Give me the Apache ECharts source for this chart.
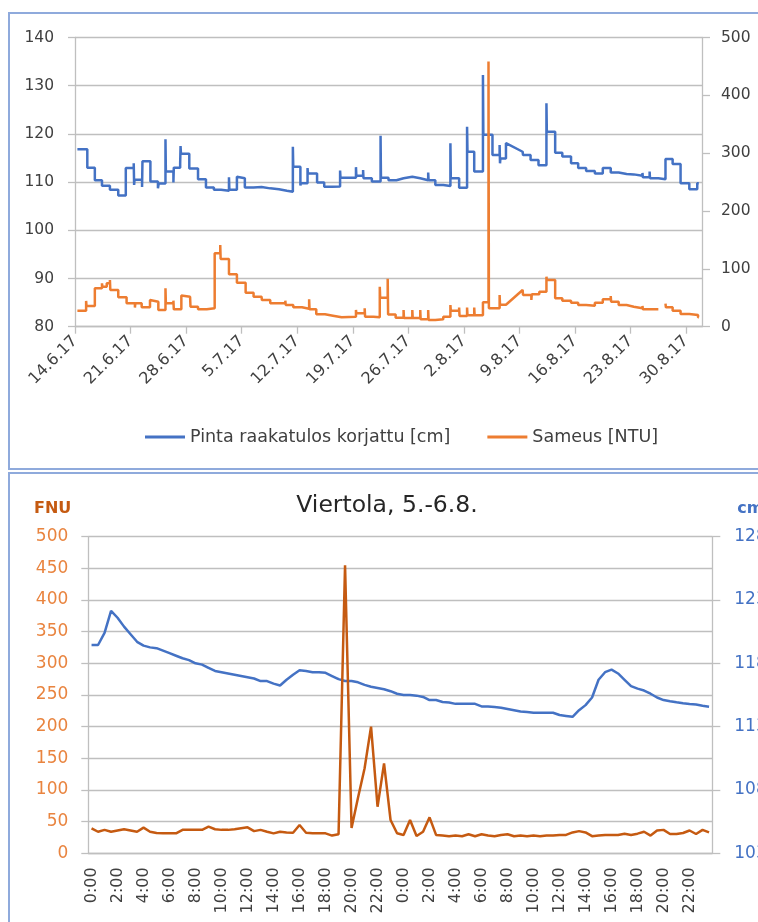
<!DOCTYPE html>
<html>
<head>
<meta charset="utf-8">
<script src="https://cdn.jsdelivr.net/npm/echarts@6/dist/echarts.min.js"></script>
<style>
  html, body { margin: 0; padding: 0; background: #fff; width: 758px; height: 922px; overflow: hidden; }
  .frame { position: absolute; border: 2px solid #8FAADC; box-sizing: border-box; }
  .chart { position: absolute; left: 0; }
</style>
</head>
<body>
<div class="frame" style="left:8px;top:12px;width:800px;height:458px"></div>
<div class="frame" style="left:8px;top:472px;width:800px;height:500px"></div>
<div id="top" class="chart" style="top:0;width:800px;height:470px"></div>
<div id="bottom" class="chart" style="top:470px;width:774px;height:452px"></div>
<script>
// ---- top chart: days counted from 14.6.17 ----
var weekLabels = ['14.6.17', '21.6.17', '28.6.17', '5.7.17', '12.7.17', '19.7.17',
  '26.7.17', '2.8.17', '9.8.17', '16.8.17', '23.8.17', '30.8.17'];

// Pinta raakatulos korjattu [cm] - level changes (day, cm)
var pintaDay = [0.3, 1.55, 2.5, 3.4, 4.4, 5.45, 6.4, 7.4, 7.45, 7.5, 8.45, 8.5, 9.5, 10.45, 10.55,
  11.4, 11.45, 12.4, 12.45, 13.25, 13.3, 13.35, 14.4, 15.5, 16.5, 17.5, 18.4, 19.4, 19.45, 20.4,
  20.45, 21.4, 22.5, 23.5, 24.6, 25.7, 26.7, 27.45, 27.5, 28.4, 28.45, 29.3, 29.35, 30.5, 31.4,
  32.4, 33.4, 33.45, 35.4, 35.45, 36.3, 36.35, 37.4, 38.5, 38.55, 39.5, 40.5, 41.4, 42.5, 43.5,
  44.5, 44.55, 45.4, 46.4, 47.3, 47.35, 48.4, 49.4, 49.45, 50.3, 51.4, 51.45, 52.6, 53.5, 53.55,
  53.6, 54.3, 56.4, 56.45, 57.4, 58.4, 59.4, 59.45, 60.5, 61.4, 62.5, 63.4, 64.4, 65.5, 66.5,
  67.5, 68.5, 69.5, 70.4, 71.5, 71.55, 72.4, 72.45, 73.5, 74.4, 75.3, 76.3, 77.4, 78.4, 78.6];
var pintaVal = [116.8, 113.0, 110.4, 109.25, 108.4, 107.2, 112.9, 113.9, 109.4, 110.5, 109.0, 114.3, 110.1, 108.7, 109.7,
  118.9, 112.2, 109.9, 113.0, 113.8, 117.5, 115.9, 112.8, 110.6, 108.9, 108.4, 108.2, 111.0, 108.4, 111.1,
  110.8, 108.9, 109.0, 108.7, 108.5, 108.2, 108.0, 117.35, 113.2, 109.3, 109.75, 112.9, 111.8, 109.9, 109.05,
  109.1, 112.4, 110.9, 113.1, 111.3, 112.5, 110.8, 110.1, 119.6, 110.9, 110.4, 110.8, 111.1, 110.8, 110.4,
  112.0, 110.4, 109.4, 109.2, 118.05, 110.8, 108.85, 121.5, 116.3, 112.2, 132.2, 119.8, 115.6, 117.7, 113.9,
  114.9, 118.1, 116.3, 115.6, 114.6, 113.5, 126.35, 120.45, 116.1, 115.3, 113.9, 112.9, 112.3, 111.8, 112.9,
  112.0, 111.7, 111.6, 111.3, 111.9, 111.0, 112.2, 110.8, 110.6, 114.8, 113.75, 109.75, 108.5, 109.75, 109.75];
var pintaRampAt = [56.4];

// Sameus [NTU] - level changes (day, NTU); null = missing data
var sameusDay = [0.3, 1.4, 1.45, 2.5, 3.4, 3.45, 4.0, 4.4, 4.45, 5.45, 6.5, 7.55, 7.6, 8.4, 9.45, 9.5,
  10.5, 11.4, 11.45, 12.4, 12.45, 13.4, 13.45, 14.5, 14.55, 15.5, 16.6, 17.6, 18.3, 18.35, 19.4, 20.4,
  21.5, 22.5, 23.5, 23.55, 24.6, 26.5, 26.55, 27.5, 28.6, 29.5, 29.55, 30.4, 31.5, 32.5, 33.6, 35.4,
  35.45, 36.5, 36.55, 37.6, 38.4, 38.45, 39.4, 39.45, 40.4, 41.4, 41.45, 42.5, 42.55, 43.5, 43.55, 44.5,
  44.55, 45.4, 46.4, 47.3, 47.35, 48.4, 48.45, 49.4, 49.45, 50.3, 50.35, 51.4, 52.1, 52.15, 53.5, 53.55,
  54.3, 56.4, 56.45, 57.5, 57.55, 58.5, 59.4, 59.45, 60.5, 61.4, 62.5, 63.4, 64.4, 65.5, 66.5, 67.5,
  67.55, 68.5, 69.5, 70.4, 71.5, 71.55, 73.5, 74.4, 74.45, 75.3, 76.3, 77.4, 78.5, 78.6];
var sameusVal = [27.7, 44.5, 35.8, 66.4, 75, 69.2, 75, 80.8, 63.5, 50.8, 40.5, 33, 40.5, 33.5, 46.2, 43.3,
  28.9, 66.4, 40.5, 45, 30, 54, 51.9, 55, 34.6, 30, 31.8, 127, 141.3, 117.1, 90.6, 76.2,
  58.8, 51.9, 55, 46.2, 40.5, 45, 37.5, 33.5, 31.2, 47.3, 30, 21.4, 19.1, 16.2, 17.3, 28.9,
  23.1, 31.8, 17.3, 16.2, 69.2, 50, 83, 21, 15.6, 28.9, 15, 28.9, 15, 28.9, 12.7, 28.9,
  11.5, 12.7, 17.3, 37.5, 27.7, 33, 18.5, 33, 20, 33, 20, 42.2, 458.5, 31.8, 54.8, 38,
  38, 63.5, 54.8, 46.2, 56, 60.6, 86.5, 80.8, 49.1, 45, 41.5, 37.5, 36.3, 41.5, 47.3, 53,
  43.3, 37.5, 34.6, 31.8, 35.8, 30.1, null, 40, 33.5, 27.7, 22, 20.2, 16.2, 16.2];
var sameusRampAt = [56.4];

// ---- bottom chart: Viertola 5.-6.8., half-hour readings ----
var halfHours = [];
for (var dd = 0; dd < 2; dd++) {
  for (var h = 0; h < 24; h++) { halfHours.push(h + ':00'); halfHours.push(h + ':30'); }
}
var fnuVals = [39.5, 34, 37, 34, 36, 38, 36, 34, 40.5, 34, 32, 31.5, 31.5, 31.5, 37, 37,
  37, 37, 42, 38, 37, 37, 38, 39.5, 41, 35, 37, 34, 31.5, 34, 33, 32.5,
  44.7, 32.5, 31.5, 31.5, 31.5, 28, 30, 455, 40, 88, 134, 200, 73.6, 142, 52.6, 31.6,
  29, 52.6, 27.3, 34, 56.8, 29, 28, 27, 28, 27, 30, 27, 30, 28, 27, 29,
  30, 27, 28, 27, 28, 27, 28, 28, 29, 29, 33, 35, 33, 27, 28, 29,
  29, 29, 31, 29, 31, 34, 28, 36, 37, 30.5, 30.5, 32, 36, 30.5, 37, 33];
var cmVals = [119.45, 119.45, 120.4, 122.15, 121.6, 120.9, 120.3, 119.7, 119.4, 119.26, 119.2, 119.0, 118.8, 118.6, 118.4, 118.25,
  118.0, 117.9, 117.65, 117.4, 117.3, 117.2, 117.1, 117.0, 116.9, 116.8, 116.6, 116.6, 116.4, 116.25, 116.7, 117.1,
  117.45, 117.4, 117.3, 117.3, 117.25, 117.0, 116.75, 116.6, 116.6, 116.5, 116.3, 116.15, 116.05, 115.95, 115.8, 115.6,
  115.5, 115.5, 115.45, 115.35, 115.1, 115.1, 114.95, 114.9, 114.8, 114.8, 114.8, 114.8, 114.6, 114.6, 114.55, 114.5,
  114.4, 114.3, 114.2, 114.15, 114.1, 114.1, 114.1, 114.1, 113.92, 113.85, 113.78, 114.3, 114.7, 115.3, 116.7, 117.3,
  117.5, 117.2, 116.7, 116.2, 116.0, 115.85, 115.6, 115.3, 115.1, 115.0, 114.92, 114.85, 114.79, 114.75, 114.65, 114.57];

// turn level changes into step vertices (ramps connect straight)
function stepPoints(days, vals, rampAt) {
  var pts = [];
  for (var i = 0; i < days.length; i++) {
    var prev = i > 0 ? vals[i - 1] : null;
    if (prev != null && rampAt.indexOf(days[i]) < 0) pts.push([days[i], prev]);
    pts.push([days[i], vals[i]]);
  }
  return pts;
}

var FONT = 'DejaVu Sans';
var GRID = '#BFBFBF';
var TXT = '#404040';

var topChart = echarts.init(document.getElementById('top'));
topChart.setOption({
  animation: false,
  textStyle: { fontFamily: FONT },
  grid: { left: 75, top: 37.5, width: 627, height: 289.2 },
  legend: {
    left: 140, top: 423, icon: 'rect', itemWidth: 40, itemHeight: 3, itemGap: 37,
    textStyle: { fontFamily: FONT, fontSize: 17.5, color: TXT },
    data: ['Pinta raakatulos korjattu [cm]', 'Sameus [NTU]']
  },
  xAxis: {
    type: 'value', min: 0, max: 79, interval: 7,
    axisLine: { show: true, lineStyle: { color: GRID, width: 1.3 } },
    axisTick: { show: true, length: 7, lineStyle: { color: GRID, width: 1.3 } },
    splitLine: { show: false },
    axisLabel: {
      rotate: 45, fontSize: 16, color: TXT, margin: 12, showMaxLabel: false,
      formatter: function (v) {
        var k = Math.round(v / 7);
        return Math.abs(v - k * 7) < 1e-6 && weekLabels[k] ? weekLabels[k] : '';
      }
    }
  },
  yAxis: [{
    type: 'value', min: 80, max: 140, interval: 10,
    axisLine: { show: true, lineStyle: { color: GRID, width: 1.3 } },
    axisTick: { show: true, length: 7, lineStyle: { color: GRID, width: 1.3 } },
    splitLine: { lineStyle: { color: GRID, width: 1.3 } },
    axisLabel: { fontSize: 15.5, color: TXT, margin: 21 }
  }, {
    type: 'value', min: 0, max: 500, interval: 100, position: 'right',
    axisLine: { show: true, lineStyle: { color: GRID, width: 1.3 } },
    axisTick: { show: true, length: 8, lineStyle: { color: GRID, width: 1.3 } },
    splitLine: { show: false },
    axisLabel: { fontSize: 15.5, color: TXT, margin: 19 }
  }],
  series: [{
    name: 'Pinta raakatulos korjattu [cm]', type: 'line', yAxisIndex: 0,
    symbol: 'none', color: '#4472C4', lineStyle: { width: 2.5 },
    data: stepPoints(pintaDay, pintaVal, pintaRampAt)
  }, {
    name: 'Sameus [NTU]', type: 'line', yAxisIndex: 1,
    symbol: 'none', color: '#ED7D31', lineStyle: { width: 2.5 },
    data: stepPoints(sameusDay, sameusVal, sameusRampAt)
  }]
});

var bottomChart = echarts.init(document.getElementById('bottom'));
bottomChart.setOption({
  animation: false,
  textStyle: { fontFamily: FONT },
  title: {
    text: 'Viertola, 5.-6.8.', left: 'center', top: 24, padding: 0,
    textStyle: { fontFamily: FONT, fontSize: 23.5, fontWeight: 'normal', color: '#262626' }
  },
  grid: { left: 88.3, top: 66.7, width: 624, height: 316.6 },
  xAxis: {
    type: 'category', data: halfHours, boundaryGap: true,
    axisLine: { lineStyle: { color: GRID, width: 1.3 } },
    axisTick: { interval: 0, length: 6, lineStyle: { color: GRID, width: 1.3 } },
    axisLabel: { interval: 3, rotate: 90, fontSize: 16, color: TXT, margin: 14 }
  },
  yAxis: [{
    type: 'value', min: 0, max: 500, interval: 50, position: 'left',
    name: 'FNU', nameLocation: 'end', nameGap: 20,
    nameTextStyle: { fontFamily: FONT, fontWeight: 'bold', fontSize: 16, color: '#C55A11', align: 'right', padding: [0, 17, 0, 0] },
    axisLine: { show: true, lineStyle: { color: GRID, width: 1.3 } },
    axisTick: { show: true, length: 7, lineStyle: { color: GRID, width: 1.3 } },
    splitLine: { lineStyle: { color: GRID, width: 1.3 } },
    axisLabel: { fontSize: 17, color: '#E9843F', margin: 20 }
  }, {
    type: 'value', min: 103, max: 128, interval: 5, position: 'right',
    name: 'cm', nameLocation: 'end', nameGap: 20,
    nameTextStyle: { fontFamily: FONT, fontWeight: 'bold', fontSize: 16, color: '#4472C4', align: 'left', padding: [0, 0, 0, 25] },
    axisLine: { show: true, lineStyle: { color: GRID, width: 1.3 } },
    axisTick: { show: true, length: 8, lineStyle: { color: GRID, width: 1.3 } },
    splitLine: { show: false },
    axisLabel: { fontSize: 17, color: '#4472C4', margin: 22 }
  }],
  series: [{
    name: 'cm', type: 'line', yAxisIndex: 1, symbol: 'none',
    color: '#4472C4', lineStyle: { width: 2.5 }, data: cmVals
  }, {
    name: 'FNU', type: 'line', yAxisIndex: 0, symbol: 'none',
    color: '#C55A11', lineStyle: { width: 2.5 }, data: fnuVals
  }]
});
</script>
</body>
</html>
